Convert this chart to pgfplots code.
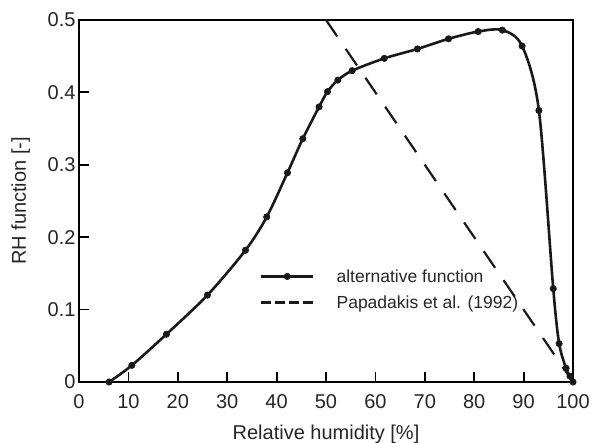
\documentclass[border=0pt]{standalone}
\usepackage{fontspec}
\setmainfont{Liberation Sans}
\usepackage{pgfplots}
\pgfplotsset{compat=1.18}
\pgfplotsset{
  altleg/.style={legend image code/.code={\draw[##1, mark repeat=2, mark phase=2] plot coordinates {(0pt,0pt) (26pt,0pt) (52pt,0pt)};}},
  papleg/.style={legend image code/.code={\draw[##1, dash pattern=on 10pt off 4pt] (0pt,0pt) -- (52pt,0pt);}},
}
\begin{document}
\begin{tikzpicture}
\useasboundingbox (-79pt,-61pt) rectangle (520pt,382pt);
\begin{axis}[
  scale only axis,
  width=494pt, height=362pt,
  xmin=0, xmax=100, ymin=0, ymax=0.5,
  xtick={0,10,20,30,40,50,60,70,80,90,100},
  ytick={0,0.1,0.2,0.3,0.4,0.5},
  axis line style={line width=1.8pt},
  tick style={line width=1.8pt, black},
  major tick length=10pt,
  tick align=inside,
  tick pos=left,
  clip=false,
  /pgf/number format/assume math mode=true,
  ticklabel style={font=\fontsize{20}{24}\selectfont, text=black!85},
  xticklabel style={yshift=-9pt},
  yticklabel style={/pgf/number format/fixed, /pgf/number format/precision=1},
  xlabel={Relative humidity [\%]},
  ylabel={RH function [-]},
  every axis x label/.style={at={(axis description cs:0.5,-0.16)}, anchor=base,
    font=\fontsize{20}{24}\selectfont, text=black!85},
  every axis y label/.style={at={(axis description cs:-0.118,0.5)}, rotate=90, anchor=center,
    font=\fontsize{20}{24}\selectfont, text=black!85},
  legend style={draw=none, fill=none, at={(axis description cs:0.366,0.2555)},
    anchor=west, inner sep=0pt, font=\fontsize{17.5}{20}\selectfont, row sep=8pt,
    text=black!85, /tikz/every odd column/.append style={column sep=20pt}},
  legend cell align=left,
]
% alternative function
\addplot[black!90, line width=2.6pt, smooth, mark=*, mark size=3.2pt,
  mark options={line width=0.6pt}, altleg]
coordinates {
  (6.1,0) (10.7,0.023) (17.7,0.066) (26.0,0.120) (33.7,0.182) (38.0,0.228)
  (42.2,0.289) (45.3,0.336) (48.6,0.380) (50.3,0.401) (52.4,0.417) (55.3,0.430)
  (61.8,0.447) (68.5,0.460) (74.8,0.474) (80.8,0.484) (85.7,0.486) (89.7,0.464)
  (93.1,0.375) (96.0,0.129) (97.2,0.053) (98.6,0.019) (99.4,0.008) (100,0)
};
\addlegendentry{alternative function}
% Papadakis et al. (1992)
\addplot[black!90, line width=2.2pt, dash pattern=on 20pt off 15pt, papleg]
coordinates {(50,0.5) (100,0)};
\addlegendentry{Papadakis et al. (1992)}
\end{axis}
\end{tikzpicture}
\end{document}
